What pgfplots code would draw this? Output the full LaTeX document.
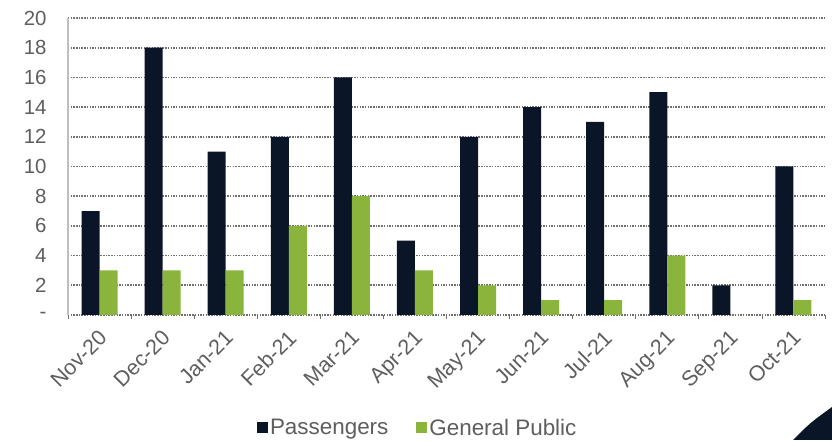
\documentclass[border=0pt]{standalone}
\usepackage{pgfplots}
\pgfplotsset{compat=1.18}
\usepackage{fontspec}
\setmainfont{Liberation Sans}
\definecolor{navy}{HTML}{0A1628}
\definecolor{grn}{HTML}{8AB43C}
\definecolor{txt}{HTML}{5E5E5E}
\definecolor{gridc}{HTML}{707070}
\begin{document}
\begin{tikzpicture}
\begin{axis}[
  name=ax,
  scale only axis,
  width=757bp, height=297bp,
  ybar=0pt, bar width=18bp,
  xmin=-0.5, xmax=11.5,
  ymin=0, ymax=20,
  ytick={0,2,...,20},
  yticklabels={-\hspace{13bp},2,4,6,8,10,12,14,16,18,20},
  xtick={0,...,11},
  xticklabels={Nov-20,Dec-20,Jan-21,Feb-21,Mar-21,Apr-21,May-21,Jun-21,Jul-21,Aug-21,Sep-21,Oct-21},
  minor xtick={-0.5,0.5,...,11.5},
  major tick length=0pt,
  minor tick length=4bp,
  tick align=outside,
  minor tick style={gridc, line width=0.8bp},
  x tick label style={xshift=-2bp, yshift=-12bp, rotate=45, anchor=north east, font=\fontsize{21.5}{23}\selectfont, text=txt, inner sep=1bp},
  y tick label style={font=\fontsize{20.5}{23}\selectfont, text=txt, xshift=-18bp},
  /pgf/number format/assume math mode=true,
  ymajorgrids,
  major grid style={gridc, line width=1.7bp, dash pattern=on 1.5bp off 1.2bp},
  axis lines*=left,
  x axis line style={draw=none},
  y axis line style={draw=gray!50, line width=1.5bp},
  legend style={at={(0.462,-0.38)}, anchor=center, draw=none, legend columns=2,
    font=\fontsize{22.5}{24}\selectfont, text=txt,
    /tikz/every even column/.append style={column sep=26bp}},
  legend image code/.code={\fill[#1] (0bp,-5.5bp) rectangle (11bp,5.5bp);},
  clip=false,
]
\addplot[fill=navy, draw=none] coordinates {(0,7) (1,18) (2,11) (3,12) (4,16) (5,5) (6,12) (7,14) (8,13) (9,15) (10,2) (11,10)};
\addplot[fill=grn, draw=none] coordinates {(0,3) (1,3) (2,3) (3,6) (4,8) (5,3) (6,2) (7,1) (8,1) (9,4) (10,0) (11,1)};
\legend{Passengers, General Public}
\end{axis}
\useasboundingbox ([xshift=-68bp,yshift=-125bp]ax.south west) rectangle ([xshift=7bp,yshift=18bp]ax.north east);
\fill[navy] ([xshift=7bp,yshift=-125bp]ax.south east) -- ([xshift=-32bp,yshift=-125bp]ax.south east) .. controls ([xshift=-15bp,yshift=-108bp]ax.south east) .. ([xshift=7bp,yshift=-92bp]ax.south east) -- cycle;
\end{tikzpicture}
\end{document}
